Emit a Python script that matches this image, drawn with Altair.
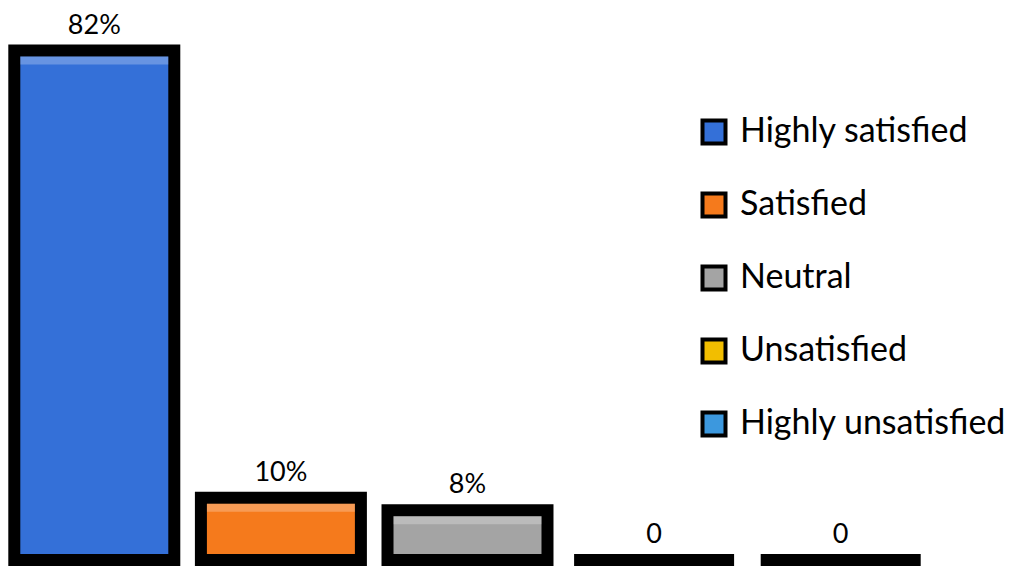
import altair as alt
import pandas as pd

# Survey response shares
categories = ["Highly satisfied", "Satisfied", "Neutral", "Unsatisfied", "Highly unsatisfied"]
values = [82, 10, 8, 0, 0]
labels = ["82%", "10%", "8%", "0", "0"]
colors = ["#3470D8", "#F57A1C", "#A4A4A4", "#F2BE00", "#3C98DE"]

df = pd.DataFrame({"category": categories, "value": values, "label": labels})

FONT = "Lato"
BORDER = 12

x_enc = alt.X(
    "category:N",
    sort=categories,
    axis=None,
    scale=alt.Scale(paddingInner=0.1426, paddingOuter=0.0713),
)
y_scale = alt.Scale(domain=[0, 90.13], nice=False, zero=True)

bars = alt.Chart(df).mark_bar(
    stroke="black",
    strokeWidth=BORDER,
    strokeJoin="miter",
).encode(
    x=x_enc,
    y=alt.Y("value:Q", scale=y_scale, axis=None),
    color=alt.Color(
        "category:N",
        sort=categories,
        scale=alt.Scale(domain=categories, range=colors),
        legend=alt.Legend(
            title=None,
            orient="none",
            legendX=696,
            legendY=115,
            symbolType="square",
            symbolSize=529,
            symbolStrokeColor="black",
            symbolStrokeWidth=4,
            symbolOpacity=1,
            labelFont=FONT,
            labelFontSize=34,
            labelColor="black",
            labelOffset=9,
            rowPadding=33,
            padding=0,
            labelLimit=400,
        ),
    ),
)

# bevel highlight along the top edge of each non-empty bar
highlight = alt.Chart(df).transform_filter("datum.value > 0").mark_tick(
    color="white",
    opacity=0.25,
    thickness=8,
    size=148,
    yOffset=10,
).encode(
    x=x_enc,
    y=alt.Y("value:Q", scale=y_scale, axis=None),
)

text = alt.Chart(df).mark_text(
    font=FONT,
    fontSize=27,
    color="black",
    baseline="alphabetic",
    dy=-17,
).encode(
    x=x_enc,
    y=alt.Y("value:Q", scale=y_scale, axis=None),
    text="label:N",
)

chart = alt.layer(bars, highlight, text).properties(
    width=933,
    height=560,
    padding={"left": 1, "top": 0, "right": 77, "bottom": 6},
    autosize=alt.AutoSizeParams(type="none"),
    background="white",
).configure_view(stroke=None)

chart.save("out.html", embed_options={"renderer": "svg", "actions": False})
